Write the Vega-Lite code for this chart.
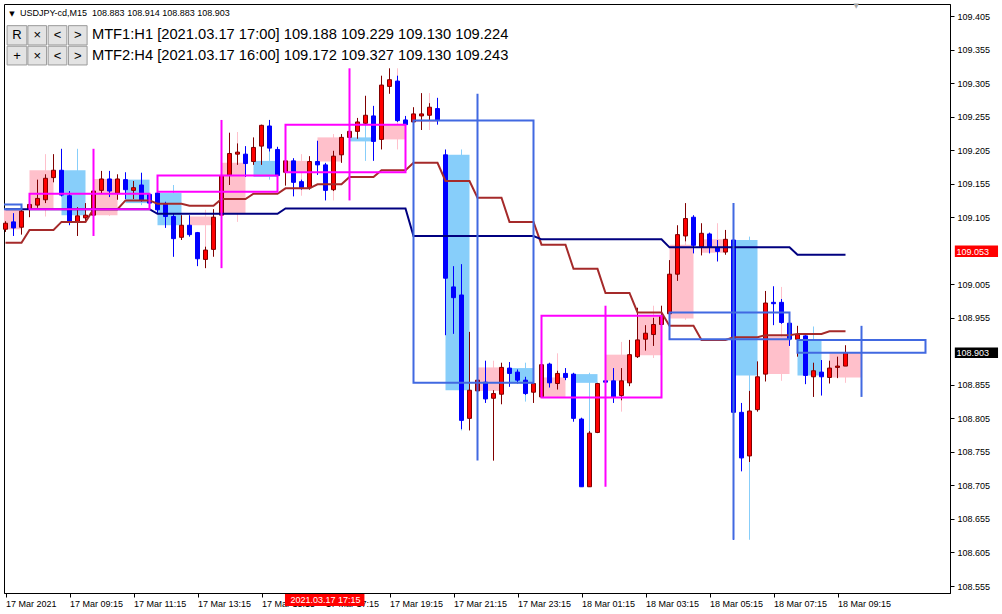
{
"$schema":"https://vega.github.io/schema/vega-lite/v6.json",
"width":946,"height":589,
"autosize":{"type":"none"},
"padding":{"left":4,"top":4,"right":52,"bottom":21},
"background":"#ffffff",
"config":{"view":{"stroke":"#000000","strokeWidth":1},"scale":{"continuousPadding":0},"axis":{"labelOverlap":false,"labelFlush":false}},
"datasets":{
"candles":[
{"t":"2021-03-17T07:15:00Z","o":109.087,"h":109.099,"l":109.083,"c":109.096,"m1":109.067,"m2":109.117},
{"t":"2021-03-17T07:30:00Z","o":109.098,"h":109.111,"l":109.077,"c":109.089,"m1":109.067,"m2":109.117},
{"t":"2021-03-17T07:45:00Z","o":109.090,"h":109.116,"l":109.079,"c":109.114,"m1":109.067,"m2":109.117},
{"t":"2021-03-17T08:00:00Z","o":109.117,"h":109.134,"l":109.105,"c":109.124,"m1":109.086,"m2":109.117},
{"t":"2021-03-17T08:15:00Z","o":109.123,"h":109.161,"l":109.119,"c":109.133,"m1":109.086,"m2":109.117},
{"t":"2021-03-17T08:30:00Z","o":109.131,"h":109.169,"l":109.126,"c":109.163,"m1":109.086,"m2":109.117},
{"t":"2021-03-17T08:45:00Z","o":109.164,"h":109.199,"l":109.157,"c":109.175,"m1":109.086,"m2":109.117},
{"t":"2021-03-17T09:00:00Z","o":109.175,"h":109.207,"l":109.136,"c":109.138,"m1":109.098,"m2":109.117},
{"t":"2021-03-17T09:15:00Z","o":109.137,"h":109.144,"l":109.093,"c":109.098,"m1":109.098,"m2":109.117},
{"t":"2021-03-17T09:30:00Z","o":109.098,"h":109.120,"l":109.077,"c":109.107,"m1":109.098,"m2":109.117},
{"t":"2021-03-17T09:45:00Z","o":109.104,"h":109.126,"l":109.099,"c":109.108,"m1":109.098,"m2":109.117},
{"t":"2021-03-17T10:00:00Z","o":109.108,"h":109.150,"l":109.107,"c":109.144,"m1":109.117,"m2":109.117},
{"t":"2021-03-17T10:15:00Z","o":109.145,"h":109.174,"l":109.140,"c":109.162,"m1":109.117,"m2":109.117},
{"t":"2021-03-17T10:30:00Z","o":109.162,"h":109.174,"l":109.135,"c":109.144,"m1":109.117,"m2":109.117},
{"t":"2021-03-17T10:45:00Z","o":109.141,"h":109.169,"l":109.131,"c":109.162,"m1":109.117,"m2":109.117},
{"t":"2021-03-17T11:00:00Z","o":109.161,"h":109.172,"l":109.132,"c":109.146,"m1":109.130,"m2":109.117},
{"t":"2021-03-17T11:15:00Z","o":109.145,"h":109.159,"l":109.132,"c":109.149,"m1":109.130,"m2":109.117},
{"t":"2021-03-17T11:30:00Z","o":109.153,"h":109.171,"l":109.128,"c":109.130,"m1":109.130,"m2":109.117},
{"t":"2021-03-17T11:45:00Z","o":109.139,"h":109.141,"l":109.123,"c":109.126,"m1":109.130,"m2":109.117},
{"t":"2021-03-17T12:00:00Z","o":109.141,"h":109.146,"l":109.111,"c":109.116,"m1":109.125,"m2":109.110},
{"t":"2021-03-17T12:15:00Z","o":109.125,"h":109.128,"l":109.089,"c":109.106,"m1":109.125,"m2":109.110},
{"t":"2021-03-17T12:30:00Z","o":109.106,"h":109.111,"l":109.046,"c":109.073,"m1":109.125,"m2":109.110},
{"t":"2021-03-17T12:45:00Z","o":109.075,"h":109.108,"l":109.071,"c":109.093,"m1":109.125,"m2":109.110},
{"t":"2021-03-17T13:00:00Z","o":109.093,"h":109.108,"l":109.076,"c":109.079,"m1":109.122,"m2":109.110},
{"t":"2021-03-17T13:15:00Z","o":109.082,"h":109.083,"l":109.032,"c":109.043,"m1":109.122,"m2":109.110},
{"t":"2021-03-17T13:30:00Z","o":109.042,"h":109.061,"l":109.029,"c":109.056,"m1":109.122,"m2":109.110},
{"t":"2021-03-17T13:45:00Z","o":109.057,"h":109.117,"l":109.046,"c":109.105,"m1":109.122,"m2":109.110},
{"t":"2021-03-17T14:00:00Z","o":109.108,"h":109.178,"l":109.105,"c":109.167,"m1":109.132,"m2":109.110},
{"t":"2021-03-17T14:15:00Z","o":109.168,"h":109.231,"l":109.153,"c":109.200,"m1":109.132,"m2":109.110},
{"t":"2021-03-17T14:30:00Z","o":109.199,"h":109.215,"l":109.183,"c":109.202,"m1":109.132,"m2":109.110},
{"t":"2021-03-17T14:45:00Z","o":109.199,"h":109.211,"l":109.165,"c":109.185,"m1":109.132,"m2":109.110},
{"t":"2021-03-17T15:00:00Z","o":109.188,"h":109.224,"l":109.183,"c":109.209,"m1":109.140,"m2":109.110},
{"t":"2021-03-17T15:15:00Z","o":109.211,"h":109.243,"l":109.183,"c":109.242,"m1":109.140,"m2":109.110},
{"t":"2021-03-17T15:30:00Z","o":109.241,"h":109.250,"l":109.203,"c":109.208,"m1":109.140,"m2":109.110},
{"t":"2021-03-17T15:45:00Z","o":109.206,"h":109.210,"l":109.165,"c":109.167,"m1":109.140,"m2":109.110},
{"t":"2021-03-17T16:00:00Z","o":109.172,"h":109.190,"l":109.152,"c":109.189,"m1":109.148,"m2":109.118},
{"t":"2021-03-17T16:15:00Z","o":109.189,"h":109.193,"l":109.136,"c":109.157,"m1":109.148,"m2":109.118},
{"t":"2021-03-17T16:30:00Z","o":109.158,"h":109.161,"l":109.146,"c":109.149,"m1":109.148,"m2":109.118},
{"t":"2021-03-17T16:45:00Z","o":109.149,"h":109.196,"l":109.146,"c":109.188,"m1":109.148,"m2":109.118},
{"t":"2021-03-17T17:00:00Z","o":109.188,"h":109.219,"l":109.168,"c":109.183,"m1":109.154,"m2":109.118},
{"t":"2021-03-17T17:15:00Z","o":109.183,"h":109.186,"l":109.130,"c":109.145,"m1":109.154,"m2":109.118},
{"t":"2021-03-17T17:30:00Z","o":109.146,"h":109.204,"l":109.144,"c":109.196,"m1":109.154,"m2":109.118},
{"t":"2021-03-17T17:45:00Z","o":109.198,"h":109.229,"l":109.186,"c":109.224,"m1":109.154,"m2":109.118},
{"t":"2021-03-17T18:00:00Z","o":109.224,"h":109.237,"l":109.220,"c":109.233,"m1":109.165,"m2":109.118},
{"t":"2021-03-17T18:15:00Z","o":109.233,"h":109.253,"l":109.222,"c":109.247,"m1":109.165,"m2":109.118},
{"t":"2021-03-17T18:30:00Z","o":109.245,"h":109.286,"l":109.243,"c":109.257,"m1":109.165,"m2":109.118},
{"t":"2021-03-17T18:45:00Z","o":109.256,"h":109.271,"l":109.189,"c":109.218,"m1":109.165,"m2":109.118},
{"t":"2021-03-17T19:00:00Z","o":109.221,"h":109.316,"l":109.206,"c":109.302,"m1":109.175,"m2":109.118},
{"t":"2021-03-17T19:15:00Z","o":109.300,"h":109.327,"l":109.289,"c":109.310,"m1":109.175,"m2":109.118},
{"t":"2021-03-17T19:30:00Z","o":109.308,"h":109.316,"l":109.247,"c":109.249,"m1":109.175,"m2":109.118},
{"t":"2021-03-17T19:45:00Z","o":109.250,"h":109.256,"l":109.240,"c":109.243,"m1":109.175,"m2":109.118},
{"t":"2021-03-17T20:00:00Z","o":109.247,"h":109.269,"l":109.235,"c":109.259,"m1":109.186,"m2":109.077},
{"t":"2021-03-17T20:15:00Z","o":109.256,"h":109.290,"l":109.235,"c":109.259,"m1":109.186,"m2":109.077},
{"t":"2021-03-17T20:30:00Z","o":109.257,"h":109.275,"l":109.250,"c":109.269,"m1":109.186,"m2":109.077},
{"t":"2021-03-17T20:45:00Z","o":109.267,"h":109.283,"l":109.243,"c":109.250,"m1":109.186,"m2":109.077},
{"t":"2021-03-17T21:00:00Z","o":109.198,"h":109.206,"l":108.929,"c":109.014,"m1":109.159,"m2":109.077},
{"t":"2021-03-17T21:15:00Z","o":109.001,"h":109.032,"l":108.931,"c":108.985,"m1":109.159,"m2":109.077},
{"t":"2021-03-17T21:30:00Z","o":108.989,"h":109.035,"l":108.789,"c":108.802,"m1":109.159,"m2":109.077},
{"t":"2021-03-17T21:45:00Z","o":108.805,"h":108.934,"l":108.787,"c":108.847,"m1":109.159,"m2":109.077},
{"t":"2021-03-17T22:00:00Z","o":108.846,"h":108.881,"l":108.844,"c":108.862,"m1":109.134,"m2":109.077},
{"t":"2021-03-17T22:15:00Z","o":108.859,"h":108.891,"l":108.828,"c":108.834,"m1":109.134,"m2":109.077},
{"t":"2021-03-17T22:30:00Z","o":108.835,"h":108.847,"l":108.742,"c":108.842,"m1":109.134,"m2":109.077},
{"t":"2021-03-17T22:45:00Z","o":108.841,"h":108.888,"l":108.826,"c":108.881,"m1":109.134,"m2":109.077},
{"t":"2021-03-17T23:00:00Z","o":108.880,"h":108.889,"l":108.852,"c":108.872,"m1":109.098,"m2":109.077},
{"t":"2021-03-17T23:15:00Z","o":108.874,"h":108.878,"l":108.857,"c":108.862,"m1":109.098,"m2":109.077},
{"t":"2021-03-17T23:30:00Z","o":108.862,"h":108.867,"l":108.840,"c":108.842,"m1":109.098,"m2":109.077},
{"t":"2021-03-17T23:45:00Z","o":108.844,"h":108.862,"l":108.828,"c":108.857,"m1":109.098,"m2":109.077},
{"t":"2021-03-18T00:00:00Z","o":108.837,"h":108.886,"l":108.837,"c":108.885,"m1":109.064,"m2":109.072},
{"t":"2021-03-18T00:15:00Z","o":108.886,"h":108.888,"l":108.851,"c":108.858,"m1":109.064,"m2":109.072},
{"t":"2021-03-18T00:30:00Z","o":108.857,"h":108.876,"l":108.848,"c":108.872,"m1":109.064,"m2":109.072},
{"t":"2021-03-18T00:45:00Z","o":108.872,"h":108.880,"l":108.862,"c":108.866,"m1":109.064,"m2":109.072},
{"t":"2021-03-18T01:00:00Z","o":108.871,"h":108.873,"l":108.800,"c":108.805,"m1":109.028,"m2":109.072},
{"t":"2021-03-18T01:15:00Z","o":108.804,"h":108.806,"l":108.703,"c":108.703,"m1":109.028,"m2":109.072},
{"t":"2021-03-18T01:30:00Z","o":108.703,"h":108.786,"l":108.703,"c":108.783,"m1":109.028,"m2":109.072},
{"t":"2021-03-18T01:45:00Z","o":108.784,"h":108.858,"l":108.783,"c":108.857,"m1":109.028,"m2":109.072},
{"t":"2021-03-18T02:00:00Z","o":108.861,"h":108.868,"l":108.853,"c":108.859,"m1":108.992,"m2":109.072},
{"t":"2021-03-18T02:15:00Z","o":108.861,"h":108.880,"l":108.828,"c":108.837,"m1":108.992,"m2":109.072},
{"t":"2021-03-18T02:30:00Z","o":108.839,"h":108.880,"l":108.832,"c":108.861,"m1":108.992,"m2":109.072},
{"t":"2021-03-18T02:45:00Z","o":108.858,"h":108.922,"l":108.853,"c":108.900,"m1":108.992,"m2":109.072},
{"t":"2021-03-18T03:00:00Z","o":108.897,"h":108.970,"l":108.895,"c":108.922,"m1":108.963,"m2":109.072},
{"t":"2021-03-18T03:15:00Z","o":108.923,"h":108.944,"l":108.906,"c":108.932,"m1":108.963,"m2":109.072},
{"t":"2021-03-18T03:30:00Z","o":108.930,"h":108.955,"l":108.913,"c":108.945,"m1":108.963,"m2":109.072},
{"t":"2021-03-18T03:45:00Z","o":108.945,"h":108.973,"l":108.944,"c":108.958,"m1":108.963,"m2":109.072},
{"t":"2021-03-18T04:00:00Z","o":108.961,"h":109.041,"l":108.958,"c":109.020,"m1":108.943,"m2":109.060},
{"t":"2021-03-18T04:15:00Z","o":109.020,"h":109.093,"l":109.010,"c":109.079,"m1":108.943,"m2":109.060},
{"t":"2021-03-18T04:30:00Z","o":109.077,"h":109.126,"l":109.069,"c":109.103,"m1":108.943,"m2":109.060},
{"t":"2021-03-18T04:45:00Z","o":109.105,"h":109.108,"l":109.051,"c":109.063,"m1":108.943,"m2":109.060},
{"t":"2021-03-18T05:00:00Z","o":109.061,"h":109.096,"l":109.048,"c":109.081,"m1":108.922,"m2":109.060},
{"t":"2021-03-18T05:15:00Z","o":109.080,"h":109.082,"l":109.051,"c":109.060,"m1":108.922,"m2":109.060},
{"t":"2021-03-18T05:30:00Z","o":109.059,"h":109.071,"l":109.039,"c":109.054,"m1":108.922,"m2":109.060},
{"t":"2021-03-18T05:45:00Z","o":109.053,"h":109.086,"l":109.049,"c":109.072,"m1":108.922,"m2":109.060},
{"t":"2021-03-18T06:00:00Z","o":109.071,"h":109.074,"l":108.624,"c":108.814,"m1":108.926,"m2":109.060},
{"t":"2021-03-18T06:15:00Z","o":108.814,"h":108.828,"l":108.726,"c":108.746,"m1":108.926,"m2":109.060},
{"t":"2021-03-18T06:30:00Z","o":108.749,"h":108.846,"l":108.740,"c":108.816,"m1":108.926,"m2":109.060},
{"t":"2021-03-18T06:45:00Z","o":108.818,"h":108.890,"l":108.815,"c":108.867,"m1":108.926,"m2":109.060},
{"t":"2021-03-18T07:00:00Z","o":108.871,"h":108.995,"l":108.860,"c":108.977,"m1":108.929,"m2":109.060},
{"t":"2021-03-18T07:15:00Z","o":108.978,"h":109.002,"l":108.944,"c":108.976,"m1":108.929,"m2":109.060},
{"t":"2021-03-18T07:30:00Z","o":108.978,"h":108.983,"l":108.946,"c":108.948,"m1":108.929,"m2":109.060},
{"t":"2021-03-18T07:45:00Z","o":108.947,"h":108.949,"l":108.913,"c":108.923,"m1":108.929,"m2":109.060},
{"t":"2021-03-18T08:00:00Z","o":108.923,"h":108.943,"l":108.897,"c":108.930,"m1":108.931,"m2":109.049},
{"t":"2021-03-18T08:15:00Z","o":108.928,"h":108.929,"l":108.856,"c":108.869,"m1":108.931,"m2":109.049},
{"t":"2021-03-18T08:30:00Z","o":108.867,"h":108.888,"l":108.837,"c":108.876,"m1":108.931,"m2":109.049},
{"t":"2021-03-18T08:45:00Z","o":108.874,"h":108.892,"l":108.839,"c":108.867,"m1":108.931,"m2":109.049},
{"t":"2021-03-18T09:00:00Z","o":108.866,"h":108.891,"l":108.857,"c":108.880,"m1":108.935,"m2":109.049},
{"t":"2021-03-18T09:15:00Z","o":108.881,"h":108.897,"l":108.865,"c":108.883,"m1":108.935,"m2":109.049},
{"t":"2021-03-18T09:30:00Z","o":108.883,"h":108.914,"l":108.883,"c":108.903,"m1":108.935,"m2":109.049}
],
"h1":[
{"t":"2021-03-17T07:00:00Z","te":"2021-03-17T07:45:00Z","tm":"2021-03-17T07:30:00Z","o":109.087,"h":109.117,"l":109.077,"c":109.116},
{"t":"2021-03-17T08:00:00Z","te":"2021-03-17T08:45:00Z","tm":"2021-03-17T08:30:00Z","o":109.118,"h":109.199,"l":109.106,"c":109.175},
{"t":"2021-03-17T09:00:00Z","te":"2021-03-17T09:45:00Z","tm":"2021-03-17T09:30:00Z","o":109.175,"h":109.207,"l":109.077,"c":109.108},
{"t":"2021-03-17T10:00:00Z","te":"2021-03-17T10:45:00Z","tm":"2021-03-17T10:30:00Z","o":109.108,"h":109.174,"l":109.107,"c":109.162},
{"t":"2021-03-17T11:00:00Z","te":"2021-03-17T11:45:00Z","tm":"2021-03-17T11:30:00Z","o":109.161,"h":109.172,"l":109.123,"c":109.126},
{"t":"2021-03-17T12:00:00Z","te":"2021-03-17T12:45:00Z","tm":"2021-03-17T12:30:00Z","o":109.141,"h":109.153,"l":109.046,"c":109.093},
{"t":"2021-03-17T13:00:00Z","te":"2021-03-17T13:45:00Z","tm":"2021-03-17T13:30:00Z","o":109.093,"h":109.116,"l":109.029,"c":109.106},
{"t":"2021-03-17T14:00:00Z","te":"2021-03-17T14:45:00Z","tm":"2021-03-17T14:30:00Z","o":109.111,"h":109.232,"l":109.098,"c":109.186},
{"t":"2021-03-17T15:00:00Z","te":"2021-03-17T15:45:00Z","tm":"2021-03-17T15:30:00Z","o":109.189,"h":109.250,"l":109.161,"c":109.165},
{"t":"2021-03-17T16:00:00Z","te":"2021-03-17T16:45:00Z","tm":"2021-03-17T16:30:00Z","o":109.172,"h":109.199,"l":109.137,"c":109.189},
{"t":"2021-03-17T17:00:00Z","te":"2021-03-17T17:45:00Z","tm":"2021-03-17T17:30:00Z","o":109.188,"h":109.229,"l":109.130,"c":109.224},
{"t":"2021-03-17T18:00:00Z","te":"2021-03-17T18:45:00Z","tm":"2021-03-17T18:30:00Z","o":109.224,"h":109.286,"l":109.189,"c":109.218},
{"t":"2021-03-17T19:00:00Z","te":"2021-03-17T19:45:00Z","tm":"2021-03-17T19:30:00Z","o":109.221,"h":109.327,"l":109.206,"c":109.244},
{"t":"2021-03-17T20:00:00Z","te":"2021-03-17T20:45:00Z","tm":"2021-03-17T20:30:00Z","o":109.247,"h":109.290,"l":109.235,"c":109.250},
{"t":"2021-03-17T21:00:00Z","te":"2021-03-17T21:45:00Z","tm":"2021-03-17T21:30:00Z","o":109.198,"h":109.206,"l":108.787,"c":108.847},
{"t":"2021-03-17T22:00:00Z","te":"2021-03-17T22:45:00Z","tm":"2021-03-17T22:30:00Z","o":108.846,"h":108.891,"l":108.742,"c":108.881},
{"t":"2021-03-17T23:00:00Z","te":"2021-03-17T23:45:00Z","tm":"2021-03-17T23:30:00Z","o":108.880,"h":108.888,"l":108.830,"c":108.857},
{"t":"2021-03-18T00:00:00Z","te":"2021-03-18T00:45:00Z","tm":"2021-03-18T00:30:00Z","o":108.837,"h":108.902,"l":108.837,"c":108.866},
{"t":"2021-03-18T01:00:00Z","te":"2021-03-18T01:45:00Z","tm":"2021-03-18T01:30:00Z","o":108.871,"h":108.873,"l":108.703,"c":108.858},
{"t":"2021-03-18T02:00:00Z","te":"2021-03-18T02:45:00Z","tm":"2021-03-18T02:30:00Z","o":108.861,"h":108.919,"l":108.815,"c":108.900},
{"t":"2021-03-18T03:00:00Z","te":"2021-03-18T03:45:00Z","tm":"2021-03-18T03:30:00Z","o":108.899,"h":108.973,"l":108.895,"c":108.959},
{"t":"2021-03-18T04:00:00Z","te":"2021-03-18T04:45:00Z","tm":"2021-03-18T04:30:00Z","o":108.954,"h":109.126,"l":108.952,"c":109.064},
{"t":"2021-03-18T05:00:00Z","te":"2021-03-18T05:45:00Z","tm":"2021-03-18T05:30:00Z","o":109.052,"h":109.096,"l":109.039,"c":109.072},
{"t":"2021-03-18T06:00:00Z","te":"2021-03-18T06:45:00Z","tm":"2021-03-18T06:30:00Z","o":109.071,"h":109.076,"l":108.624,"c":108.869},
{"t":"2021-03-18T07:00:00Z","te":"2021-03-18T07:45:00Z","tm":"2021-03-18T07:30:00Z","o":108.871,"h":109.001,"l":108.861,"c":108.927},
{"t":"2021-03-18T08:00:00Z","te":"2021-03-18T08:45:00Z","tm":"2021-03-18T08:30:00Z","o":108.923,"h":108.942,"l":108.837,"c":108.869},
{"t":"2021-03-18T09:00:00Z","te":"2021-03-18T10:00:00Z","tm":"2021-03-18T09:30:00Z","o":108.866,"h":108.914,"l":108.858,"c":108.903}
],
"h4":[
{"t":"2021-03-17T04:00:00Z","te":"2021-03-17T07:45:00Z","tm":"2021-03-17T06:00:00Z","o":109.124,"h":109.135,"l":109.110,"c":109.117},
{"t":"2021-03-17T08:00:00Z","te":"2021-03-17T11:45:00Z","tm":"2021-03-17T10:00:00Z","o":109.117,"h":109.207,"l":109.077,"c":109.140},
{"t":"2021-03-17T12:00:00Z","te":"2021-03-17T15:45:00Z","tm":"2021-03-17T14:00:00Z","o":109.143,"h":109.250,"l":109.029,"c":109.167},
{"t":"2021-03-17T16:00:00Z","te":"2021-03-17T19:45:00Z","tm":"2021-03-17T18:00:00Z","o":109.172,"h":109.327,"l":109.130,"c":109.243},
{"t":"2021-03-17T20:00:00Z","te":"2021-03-17T23:45:00Z","tm":"2021-03-17T22:00:00Z","o":109.249,"h":109.289,"l":108.742,"c":108.858},
{"t":"2021-03-18T00:00:00Z","te":"2021-03-18T03:45:00Z","tm":"2021-03-18T02:00:00Z","o":108.836,"h":108.973,"l":108.703,"c":108.958},
{"t":"2021-03-18T04:00:00Z","te":"2021-03-18T07:45:00Z","tm":"2021-03-18T06:00:00Z","o":108.963,"h":109.126,"l":108.624,"c":108.923},
{"t":"2021-03-18T08:00:00Z","te":"2021-03-18T12:00:00Z","tm":"2021-03-18T10:00:00Z","o":108.922,"h":108.943,"l":108.837,"c":108.903}
],
"buttons":[
{"t1":"2021-03-17T07:18:00Z","t2":"2021-03-17T07:55:00Z","tc":"2021-03-17T07:36:30Z","p1":109.3906,"p2":109.3618,"pc":109.3762,"s":"R"},
{"t1":"2021-03-17T07:57:00Z","t2":"2021-03-17T08:32:00Z","tc":"2021-03-17T08:14:30Z","p1":109.3906,"p2":109.3618,"pc":109.3762,"s":"×"},
{"t1":"2021-03-17T08:35:00Z","t2":"2021-03-17T09:10:00Z","tc":"2021-03-17T08:52:30Z","p1":109.3906,"p2":109.3618,"pc":109.3762,"s":"<"},
{"t1":"2021-03-17T09:13:00Z","t2":"2021-03-17T09:48:00Z","tc":"2021-03-17T09:30:30Z","p1":109.3906,"p2":109.3618,"pc":109.3762,"s":">"},
{"t1":"2021-03-17T07:18:00Z","t2":"2021-03-17T07:55:00Z","tc":"2021-03-17T07:36:30Z","p1":109.3599,"p2":109.3320,"pc":109.3460,"s":"+"},
{"t1":"2021-03-17T07:57:00Z","t2":"2021-03-17T08:32:00Z","tc":"2021-03-17T08:14:30Z","p1":109.3599,"p2":109.3320,"pc":109.3460,"s":"×"},
{"t1":"2021-03-17T08:35:00Z","t2":"2021-03-17T09:10:00Z","tc":"2021-03-17T08:52:30Z","p1":109.3599,"p2":109.3320,"pc":109.3460,"s":"<"},
{"t1":"2021-03-17T09:13:00Z","t2":"2021-03-17T09:48:00Z","tc":"2021-03-17T09:30:30Z","p1":109.3599,"p2":109.3320,"pc":109.3460,"s":">"}
]
},
"layer":[
{"data":{"name":"h1"},"mark":{"type":"rect","clip":true},
 "encoding":{
  "x":{"field":"t","type":"temporal","title":null,"scale":{"type":"utc","domain":[1615965131250,1616071556250],"nice":false,"padding":0},
   "axis":{"values":[1615965300000,1615972500000,1615979700000,1615986900000,1615994100000,1616001300000,1616008500000,1616015700000,1616022900000,1616030100000,1616037300000,1616044500000,1616051700000,1616058900000],
    "tickCount":40,
    "labelExpr":"utcFormat(datum.value, '%d %H:%M') == '17 07:15' ? '17 Mar 2021' : utcFormat(datum.value, '%d %b %H:%M')",
    "labelAlign":"left","labelBaseline":"top","labelPadding":2,"tickSize":4,"labelFont":"Liberation Sans","labelFontSize":9,"labelColor":"#000000","tickColor":"#000000","domainColor":"#000000","grid":false,"labelOverlap":false,"labelFlush":false,"labelBound":false,"title":null}},
  "x2":{"field":"te"},
  "y":{"field":"o","type":"quantitative","title":null,"scale":{"domain":[108.5446,109.4229],"nice":false,"zero":false,"padding":0},
   "axis":{"orient":"right","values":[108.555,108.605,108.655,108.705,108.755,108.805,108.855,108.955,109.005,109.105,109.155,109.205,109.255,109.305,109.355,109.405],
    "tickCount":40,
    "format":".3f","labelFont":"Liberation Sans","labelFontSize":9,"labelColor":"#000000","tickColor":"#000000","tickSize":4,"labelPadding":3,"domainColor":"#000000","grid":false,"labelOverlap":false,"labelFlush":false,"title":null}},
  "y2":{"field":"c"},
  "color":{"condition":{"test":"datum.c >= datum.o","value":"#FFC0CB"},"value":"#87CEFA"}}},
{"data":{"name":"h1"},"mark":{"type":"rule","clip":true,"strokeWidth":1},
 "encoding":{"x":{"field":"tm","type":"temporal","title":null},"y":{"field":"l","type":"quantitative","title":null},"y2":{"field":"h"},
  "color":{"condition":{"test":"datum.c >= datum.o","value":"#FFC0CB"},"value":"#87CEFA"}}},
{"mark":{"type":"rule","color":"#C0C0C0","strokeWidth":1},"encoding":{"y":{"datum":108.903,"type":"quantitative"}}},
{"data":{"name":"candles"},"mark":{"type":"rule","strokeWidth":1},
 "encoding":{"x":{"field":"t","type":"temporal","title":null},"y":{"field":"l","type":"quantitative","title":null},"y2":{"field":"h"},
  "color":{"condition":{"test":"datum.c >= datum.o","value":"#800000"},"value":"#0000FF"}}},
{"data":{"name":"candles"},"mark":{"type":"bar","width":4,"strokeWidth":1},
 "encoding":{"x":{"field":"t","type":"temporal","title":null,"scale":{"type":"utc","domain":[1615965131250,1616071556250],"nice":false,"padding":0}},"y":{"field":"o","type":"quantitative","title":null},"y2":{"field":"c"},
  "color":{"condition":{"test":"datum.c >= datum.o","value":"#FF0000"},"value":"#0000FF"},
  "stroke":{"condition":{"test":"datum.c >= datum.o","value":"#800000"},"value":"#0000FF"}}},
{"data":{"name":"candles"},"mark":{"type":"line","color":"#A52A2A","strokeWidth":2},
 "encoding":{"x":{"field":"t","type":"temporal","title":null},"y":{"field":"m1","type":"quantitative","title":null}}},
{"data":{"name":"candles"},"mark":{"type":"line","color":"#000080","strokeWidth":2},
 "encoding":{"x":{"field":"t","type":"temporal","title":null},"y":{"field":"m2","type":"quantitative","title":null}}},
{"mark":{"type":"rule","color":"#FF0000","strokeWidth":1},"encoding":{"y":{"datum":109.053,"type":"quantitative"}}},
{"data":{"name":"h4"},"mark":{"type":"rect","filled":false,"strokeWidth":2,"clip":true},
 "encoding":{"x":{"field":"t","type":"temporal","title":null},"x2":{"field":"te"},"y":{"field":"o","type":"quantitative","title":null},"y2":{"field":"c"},
  "color":{"condition":{"test":"datum.c >= datum.o","value":"#FF00FF"},"value":"#4169E1"}}},
{"data":{"name":"h4"},"mark":{"type":"rule","strokeWidth":2,"clip":true},
 "encoding":{"x":{"field":"tm","type":"temporal","title":null},"y":{"field":"l","type":"quantitative","title":null},"y2":{"field":"h"},
  "color":{"condition":{"test":"datum.c >= datum.o","value":"#FF00FF"},"value":"#4169E1"}}},
{"mark":{"type":"rule","color":"#FF0000","strokeWidth":1},"encoding":{"x":{"datum":1615994100000,"type":"temporal"}}},
{"data":{"name":"buttons"},"mark":{"type":"rect","fill":"#E3E3E3","stroke":"#9A9A9A","strokeWidth":1},
 "encoding":{"x":{"field":"t1","type":"temporal","title":null},"x2":{"field":"t2"},"y":{"field":"p1","type":"quantitative","title":null},"y2":{"field":"p2"}}},
{"data":{"name":"buttons"},"mark":{"type":"text","font":"Liberation Sans","fontSize":13,"color":"#000000","align":"center","baseline":"middle"},
 "encoding":{"x":{"field":"tc","type":"temporal","title":null},"y":{"field":"pc","type":"quantitative","title":null},"text":{"field":"s"}}},
{"data":{"values":[{"t":"2021-03-17T07:42:00Z","p":109.405,"s":"USDJPY-cd,M15\u00a0\u00a0108.883 108.914 108.883 108.903"}]},
 "mark":{"type":"text","font":"Liberation Sans","fontSize":9,"color":"#000000","align":"left","baseline":"alphabetic"},
 "encoding":{"x":{"field":"t","type":"temporal","title":null},"y":{"field":"p","type":"quantitative","title":null},"text":{"field":"s"}}},
{"data":{"values":[{"t":"2021-03-17T07:27:00Z","p":109.405,"s":"▼"},{"t":"2021-03-18T09:50:00Z","p":109.4165,"s":"▼"}]},
 "mark":{"type":"text","font":"DejaVu Sans","fontSize":7,"align":"center","baseline":"alphabetic"},
 "encoding":{"x":{"field":"t","type":"temporal","title":null},"y":{"field":"p","type":"quantitative","title":null},"text":{"field":"s"},
  "color":{"condition":{"test":"datum.p > 109.41","value":"#A8A8A8"},"value":"#000000"}}},
{"data":{"values":[{"t":"2021-03-17T09:57:00Z","p":109.3703,"s":"MTF1:H1 [2021.03.17 17:00] 109.188 109.229 109.130 109.224"},{"t":"2021-03-17T09:57:00Z","p":109.3394,"s":"MTF2:H4 [2021.03.17 16:00] 109.172 109.327 109.130 109.243"}]},
 "mark":{"type":"text","font":"Liberation Sans","fontSize":14.7,"color":"#000000","align":"left","baseline":"alphabetic"},
 "encoding":{"x":{"field":"t","type":"temporal","title":null},"y":{"field":"p","type":"quantitative","title":null},"text":{"field":"s"}}},
{"data":{"values":[{"t1":"2021-03-18T12:55:00Z","t2":"2021-03-18T14:16:00Z","p1":109.0628,"p2":109.0457,"k":"a"},{"t1":"2021-03-18T12:55:00Z","t2":"2021-03-18T14:16:00Z","p1":108.9107,"p2":108.8950,"k":"b"},{"t1":"2021-03-17T15:59:00Z","t2":"2021-03-17T18:28:00Z","p1":108.5431,"p2":108.5252,"k":"a"}]},
 "mark":{"type":"rect"},
 "encoding":{"x":{"field":"t1","type":"temporal","title":null},"x2":{"field":"t2"},"y":{"field":"p1","type":"quantitative","title":null},"y2":{"field":"p2"},
  "color":{"condition":{"test":"datum.k == 'a'","value":"#FF0000"},"value":"#000000"}}},
{"data":{"values":[{"t":"2021-03-18T12:58:00Z","p":109.053,"s":"109.053"},{"t":"2021-03-18T12:58:00Z","p":108.903,"s":"108.903"}]},
 "mark":{"type":"text","font":"Liberation Sans","fontSize":9,"color":"#FFFFFF","align":"left","baseline":"middle"},
 "encoding":{"x":{"field":"t","type":"temporal","title":null},"y":{"field":"p","type":"quantitative","title":null},"text":{"field":"s"}}},
{"data":{"values":[{"t":"2021-03-17T17:15:00Z","p":108.5342,"s":"2021.03.17 17:15"}]},
 "mark":{"type":"text","font":"Liberation Sans","fontSize":9,"color":"#FFFFFF","align":"center","baseline":"middle"},
 "encoding":{"x":{"field":"t","type":"temporal","title":null},"y":{"field":"p","type":"quantitative","title":null},"text":{"field":"s"}}}
]
}
